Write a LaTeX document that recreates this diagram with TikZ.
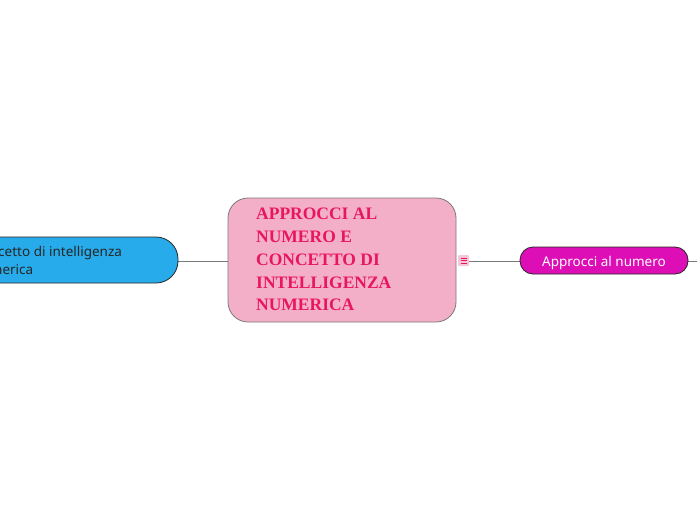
\documentclass[tikz,border=0pt]{standalone}
\usepackage{fontspec}
\setmainfont{Noto Sans}
\newfontfamily\titlefont{Liberation Serif}
\definecolor{pinkfill}{HTML}{F4AFC8}
\definecolor{pinktext}{HTML}{E8175D}
\definecolor{bluefill}{HTML}{27ABEA}
\definecolor{magfill}{HTML}{DD0EB5}
\definecolor{linegray}{HTML}{7A7A7A}
\begin{document}
\begin{tikzpicture}[x=1pt,y=-1pt,
  conn/.style={draw=linegray,line width=0.8pt},
  topicbox/.style={rounded corners=13pt,draw=black!85,line width=0.8pt}]
\clip (0,0) rectangle (697,520);
\fill[white] (0,0) rectangle (697,520);
% connectors
\coordinate (rend) at (697,261);
\draw[conn] (178,261) -- (228,261);
\draw[conn] (469,261) -- (520,261);
\draw[conn] (688,261) -- (rend);
% central node
\draw[fill=pinkfill,draw=linegray,line width=0.8pt,rounded corners=20pt] (228,198) rectangle (456,322);
\node[anchor=north west,inner sep=0pt,align=left,text=pinktext,font=\titlefont\bfseries\fontsize{17.5}{22.8}\selectfont] (center) at (256,208)
{APPROCCI AL\\NUMERO E\\CONCETTO DI\\INTELLIGENZA\\NUMERICA};
% icon
\node[draw=none,fill=pinkfill!70,minimum width=11pt,minimum height=11pt,inner sep=0pt,rounded corners=1pt] (icon) at (463.5,260.5) {};
\foreach \dy in {-2.5,0,2.5}
  \draw[pinktext,line width=0.9pt] (460.5,260.5+\dy) -- (466.5,260.5+\dy);
% left node
\draw[topicbox,fill=bluefill,rounded corners=22pt] (-60,237) rectangle (178,283);
\node[anchor=west,inner sep=0pt,align=left,text=black!85,font=\fontsize{13.5}{18}\selectfont] (left) at (-27,260)
{Concetto di intelligenza\\numerica};
% right node
\draw[topicbox,fill=magfill] (520,247) rectangle (688,274);
\node[inner sep=0pt,text=white,font=\fontsize{13.5}{15}\selectfont] (right) at (604,262.5) {Approcci al numero};
\end{tikzpicture}
\end{document}
